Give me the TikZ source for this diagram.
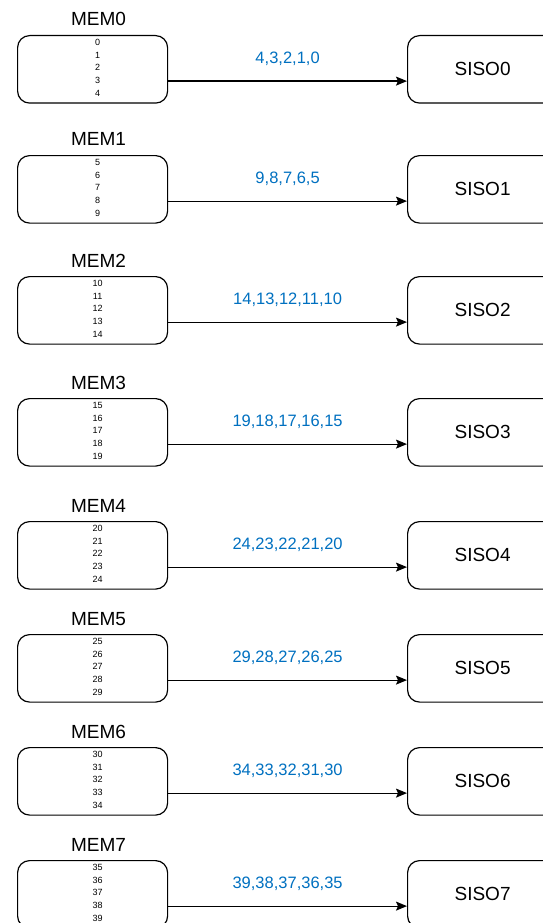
\documentclass[tikz,border=0pt]{standalone}
\usepackage{fontspec}
\setmainfont{Liberation Sans}
\usetikzlibrary{arrows.meta,positioning}
\definecolor{buslabel}{RGB}{0,112,192}
\tikzset{
  membox/.style={draw, rounded corners=12pt, line width=1.2pt, minimum width=150pt,
    minimum height=67.5pt, inner sep=0pt, anchor=north west},
  sisobox/.style={membox, font=\fontsize{19}{21}\selectfont},
  memtitle/.style={anchor=base, inner sep=0pt, font=\fontsize{19}{21}\selectfont},
  memlist/.style={anchor=north, inner sep=0pt, align=center,
    font=\fontsize{9}{12.7}\selectfont},
  busline/.style={-{Stealth[length=11pt,width=9pt,inset=2pt]}, line width=1.2pt},
  busnote/.style={anchor=base, inner sep=0pt, text=buslabel,
    font=\fontsize{16.5}{18}\selectfont}
}
\begin{document}
\begin{tikzpicture}[x=1pt,y=-1pt]
  \useasboundingbox (0,0) rectangle (542,923);
  % one memory bank feeding one SISO per row
  \foreach \i/\top in {0/35,1/155,2/276,3/398,4/521,5/634,6/747,7/860} {
    \pgfmathtruncatemacro{\na}{5*\i}
    \pgfmathtruncatemacro{\nb}{5*\i+1}
    \pgfmathtruncatemacro{\nc}{5*\i+2}
    \pgfmathtruncatemacro{\nd}{5*\i+3}
    \pgfmathtruncatemacro{\ne}{5*\i+4}
    \node[membox] (mem\i) at (17,\top) {};
    \node[memtitle] (memname\i) at ([xshift=6pt,yshift=9pt]mem\i.north) {MEM\i};
    \node[memlist] (memlist\i) at ([xshift=5pt,yshift=-4pt]mem\i.north)
      {\na\\\nb\\\nc\\\nd\\\ne};
    \node[sisobox] (siso\i) at (407,\top) {SISO\i};
    % data order on the bus, last word first
    \draw[busline] ([yshift=-11.75pt]mem\i.east) -- ([yshift=-11.75pt]siso\i.west)
      node[busnote, midway, yshift=18pt] (busnote\i) {\ne,\nd,\nc,\nb,\na};
  }
\end{tikzpicture}
\end{document}
